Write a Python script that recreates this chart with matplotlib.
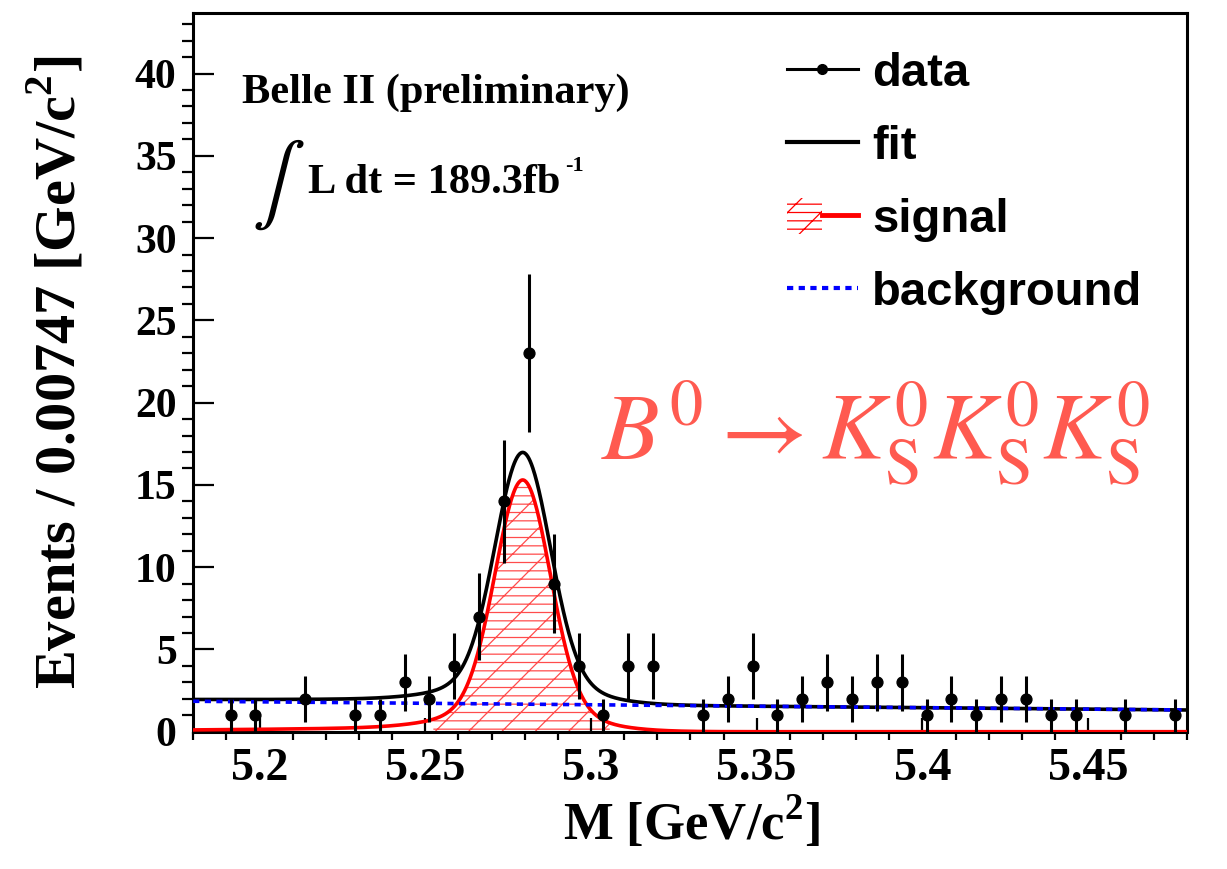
import numpy as np
import matplotlib
matplotlib.use('Agg')
import matplotlib.pyplot as plt
from matplotlib.lines import Line2D
from matplotlib.patches import Patch
from matplotlib.legend_handler import HandlerTuple
from matplotlib.ticker import MultipleLocator

plt.rcParams['font.family'] = 'Liberation Serif'
plt.rcParams['mathtext.fontset'] = 'custom'
plt.rcParams['mathtext.rm'] = 'Liberation Serif:bold'
plt.rcParams['mathtext.bf'] = 'Liberation Serif:bold'
plt.rcParams['hatch.linewidth'] = 0.9

# Histogram: 40 bins between 5.18 and 5.48 GeV/c^2
edges = np.linspace(5.18, 5.48, 41)
counts = np.array([0, 1, 1, 0, 2, 0, 1, 1, 3, 2,
                   4, 7, 14, 23, 9, 4, 1, 4, 4, 0,
                   1, 2, 4, 1, 2, 3, 2, 3, 3, 1,
                   2, 1, 2, 2, 1, 1, 0, 1, 0, 1])
centers = 0.5 * (edges[:-1] + edges[1:])
keep = counts > 0

# Fit result (signal = core + wide gaussian + left tail, linear background)
m_B = 5.2794
core_amp, core_sigma = 13.65, 0.0082
wide_amp, wide_sigma = 1.2, 0.018
tail_amp, tail_len, tail_sigma_r = 0.45, 0.07, 0.012
bkg_lo, bkg_slope = 1.85, -1.77
signal_fill_range = (5.2523, 5.3058)


def signal(m):
    d = m - m_B
    core = core_amp * np.exp(-0.5 * (d / core_sigma) ** 2)
    wide = wide_amp * np.exp(-0.5 * (d / wide_sigma) ** 2)
    tail = np.where(d < 0, tail_amp * np.exp(d / tail_len),
                    tail_amp * np.exp(-0.5 * (d / tail_sigma_r) ** 2))
    return core + wide + tail


def background(m):
    return bkg_lo + bkg_slope * (m - 5.18)


m = np.linspace(5.18, 5.48, 1500)
sig = signal(m)
bkg = background(m)
fit = sig + bkg

fig = plt.figure(figsize=(12.27, 8.69), dpi=100)
ax = fig.add_axes([0.1575, 0.158, 0.8103, 0.8274])

sel = (m >= signal_fill_range[0]) & (m <= signal_fill_range[1])
ax.fill_between(m[sel], 0, sig[sel], facecolor='none', edgecolor=(1, 0, 0, 0.7),
                hatch='/--', linewidth=0, zorder=1)
ax.plot(m, sig, color='red', lw=2.6, zorder=3)
ax.plot(m, fit, color='black', lw=2.6, zorder=3.1)
ax.plot(m, bkg, color='blue', lw=2.6, linestyle=(0, (1.7, 1.5)),
        dash_capstyle='butt', zorder=3.2)
ax.errorbar(centers[keep], counts[keep], yerr=np.sqrt(counts[keep]), fmt='o',
            color='black', ms=7.8, elinewidth=2.2, capsize=0, zorder=4)

ax.set_xlim(5.18, 5.48)
ax.set_ylim(0, 43.7)
ax.xaxis.set_minor_locator(MultipleLocator(0.01))
ax.yaxis.set_minor_locator(MultipleLocator(1))
ax.set_xticks([5.2, 5.25, 5.3, 5.35, 5.4, 5.45])
ax.set_xticklabels(['5.2', '5.25', '5.3', '5.35', '5.4', '5.45'])
ax.set_yticks(range(0, 45, 5))
ax.set_yticklabels([str(v) for v in range(0, 45, 5)])
ax.tick_params(direction='in', width=1.6)
ax.tick_params(axis='y', which='major', length=15, pad=12, labelsize=30)
ax.tick_params(axis='y', which='minor', length=8, width=1.6)
ax.tick_params(axis='x', which='major', length=10, pad=12, labelsize=33)
ax.tick_params(axis='x', which='minor', length=6, width=1.6)
plt.setp(ax.get_xticklabels() + ax.get_yticklabels(), fontweight='bold')
for sp in ax.spines.values():
    sp.set_linewidth(2.2)

fig.text(57 / 1227, 1 - 372 / 869, r'Events / 0.00747 [GeV/c$^{\mathbf{2}}$]',
         rotation=90, ha='center', va='center', fontsize=42, fontweight='bold')
fig.text(692 / 1227, 1 - 822 / 869, r'M [GeV/c$^{\mathbf{2}}$]',
         ha='center', va='center', fontsize=38, fontweight='bold')

fig.text(242 / 1227, 1 - 103 / 869, 'Belle II (preliminary)', fontsize=30.5,
         fontweight='bold', va='baseline', ha='left')
fig.text(252 / 1227, 1 - 205 / 869, r'$\int$', math_fontfamily='stix', fontsize=57,
         va='baseline', ha='left')
fig.text(308 / 1227, 1 - 193 / 869, 'L dt = 189.3fb', fontsize=30.5,
         fontweight='bold', va='baseline', ha='left')
fig.text(565 / 1227, 1 - 171 / 869, '-1', fontsize=16, fontweight='bold',
         va='baseline', ha='left')

fig.text(601 / 1227, 1 - 460 / 869, r'$B^0 \rightarrow K_{\rm S}^0 K_{\rm S}^0 K_{\rm S}^0$',
         math_fontfamily='stix', color='#ff5a50', fontsize=68,
         va='baseline', ha='left')

handles = [
    Line2D([], [], color='black', marker='o', ms=7, lw=2.2),
    Line2D([], [], color='black', lw=3),
    (Patch(facecolor='none', edgecolor='red', hatch='/--', linewidth=0),
     Line2D([], [], color='red', lw=3.5)),
    Line2D([], [], color='blue', lw=3, linestyle=(0, (1.5, 1.3)), dash_capstyle='butt'),
]
labels = ['data', 'fit', 'signal', 'background']
fig.legend(handles, labels, loc='upper left', bbox_to_anchor=(787 / 1227, 1 - 52 / 869),
           frameon=False, prop={'family': 'Liberation Sans', 'weight': 'bold', 'size': 34},
           handlelength=1.5, handleheight=0.8, handletextpad=0.3, labelspacing=0.6,
           borderpad=0, borderaxespad=0,
           handler_map={tuple: HandlerTuple(ndivide=None, pad=0)})

fig.savefig('out.png', dpi=100)
